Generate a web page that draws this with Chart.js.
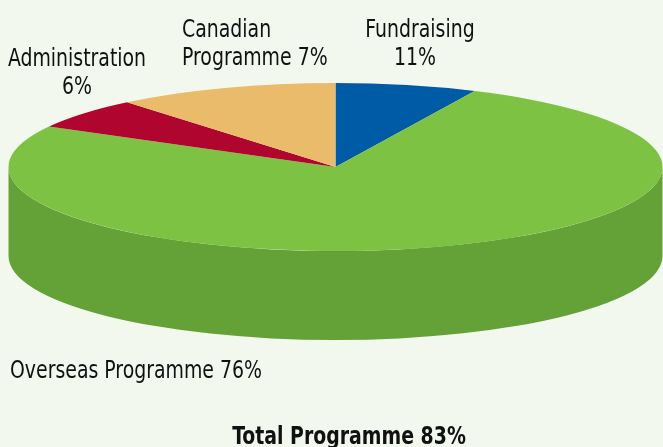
<!DOCTYPE html>
<html>
<head>
<meta charset="utf-8">
<script src="https://cdn.jsdelivr.net/npm/chart.js@4/dist/chart.umd.min.js"></script>
<style>
  html, body { margin: 0; padding: 0; background: #f3f8ee; }
  canvas { display: block; }
</style>
</head>
<body>
<canvas id="pie" width="663" height="447"></canvas>
<script>
// slices clockwise from 12 o'clock, sized as drawn in the picture
const categories = ['Fundraising', 'Overseas Programme', 'Administration', 'Canadian Programme'];
const shares = [7, 76, 6, 11];
// the percentages printed next to each slice
const printed = ['11%', '76%', '6%', '7%'];
const totalLabel = 'Total Programme 83%';

const topColors = ['#005ba6', '#7dc243', '#b0052f', '#e9bb6a'];
const sideColors = ['#004a88', '#64a136', '#8e0426', '#c99c52'];

const FONT = "'Liberation Sans Narrow', 'DejaVu Sans Condensed', sans-serif";
const squeeze = 0.875;   // the original uses a condensed face
const tilt = 84 / 327;
const depth = 89;

// squash the pie into an ellipse and draw the visible rim under it
const pie3d = {
    id: 'pie3d',
    beforeDatasetsDraw(chart) {
        const ctx = chart.ctx;
        const arcs = chart.getDatasetMeta(0).data;
        const cx = arcs[0].x, cy = arcs[0].y;
        const rx = arcs[0].outerRadius, ry = rx * tilt;

        ctx.save();
        arcs.forEach(function (arc, i) {
            const a = Math.max(arc.startAngle, 0);
            const b = Math.min(arc.endAngle, Math.PI);
            if (b <= a) return;
            ctx.beginPath();
            ctx.ellipse(cx, cy, rx, ry, 0, a, b);
            ctx.ellipse(cx, cy + depth, rx, ry, 0, b, a, true);
            ctx.closePath();
            ctx.fillStyle = sideColors[i];
            ctx.fill();
        });
        ctx.restore();

        ctx.save();
        ctx.translate(cx, cy);
        ctx.scale(1, tilt);
        ctx.translate(-cx, -cy);
    },
    afterDatasetsDraw(chart) {
        chart.ctx.restore();
    }
};

function put(ctx, text, x, y, align) {
    ctx.save();
    ctx.translate(x, y);
    ctx.scale(squeeze, 1);
    ctx.textAlign = align;
    ctx.fillText(text, 0, 0);
    ctx.restore();
}

// slice labels and the total underneath
const pieLabels = {
    id: 'pieLabels',
    afterDraw(chart) {
        const ctx = chart.ctx;
        ctx.save();
        ctx.fillStyle = '#111';
        ctx.textBaseline = 'alphabetic';
        ctx.font = '24px ' + FONT;

        put(ctx, categories[2], 77, 66, 'center');
        put(ctx, printed[2], 77, 94, 'center');
        put(ctx, categories[0], 420, 37, 'center');
        put(ctx, printed[0], 415, 65, 'center');

        put(ctx, 'Canadian', 182, 37, 'left');
        put(ctx, 'Programme ' + printed[3], 182, 65, 'left');
        put(ctx, categories[1] + ' ' + printed[1], 10, 378, 'left');

        ctx.font = 'bold 24px ' + FONT;
        put(ctx, totalLabel, 349, 444, 'center');
        ctx.restore();
    }
};

new Chart(document.getElementById('pie'), {
    type: 'pie',
    data: {
        labels: categories,
        datasets: [{
            data: shares,
            backgroundColor: topColors,
            borderWidth: 0,
            radius: 327,
            clip: false
        }]
    },
    options: {
        responsive: false,
        animation: false,
        events: [],
        layout: {
            padding: { left: 8, right: 0, top: 0, bottom: 113 }
        },
        plugins: {
            legend: { display: false },
            tooltip: { enabled: false }
        }
    },
    plugins: [pie3d, pieLabels]
});
</script>
</body>
</html>
